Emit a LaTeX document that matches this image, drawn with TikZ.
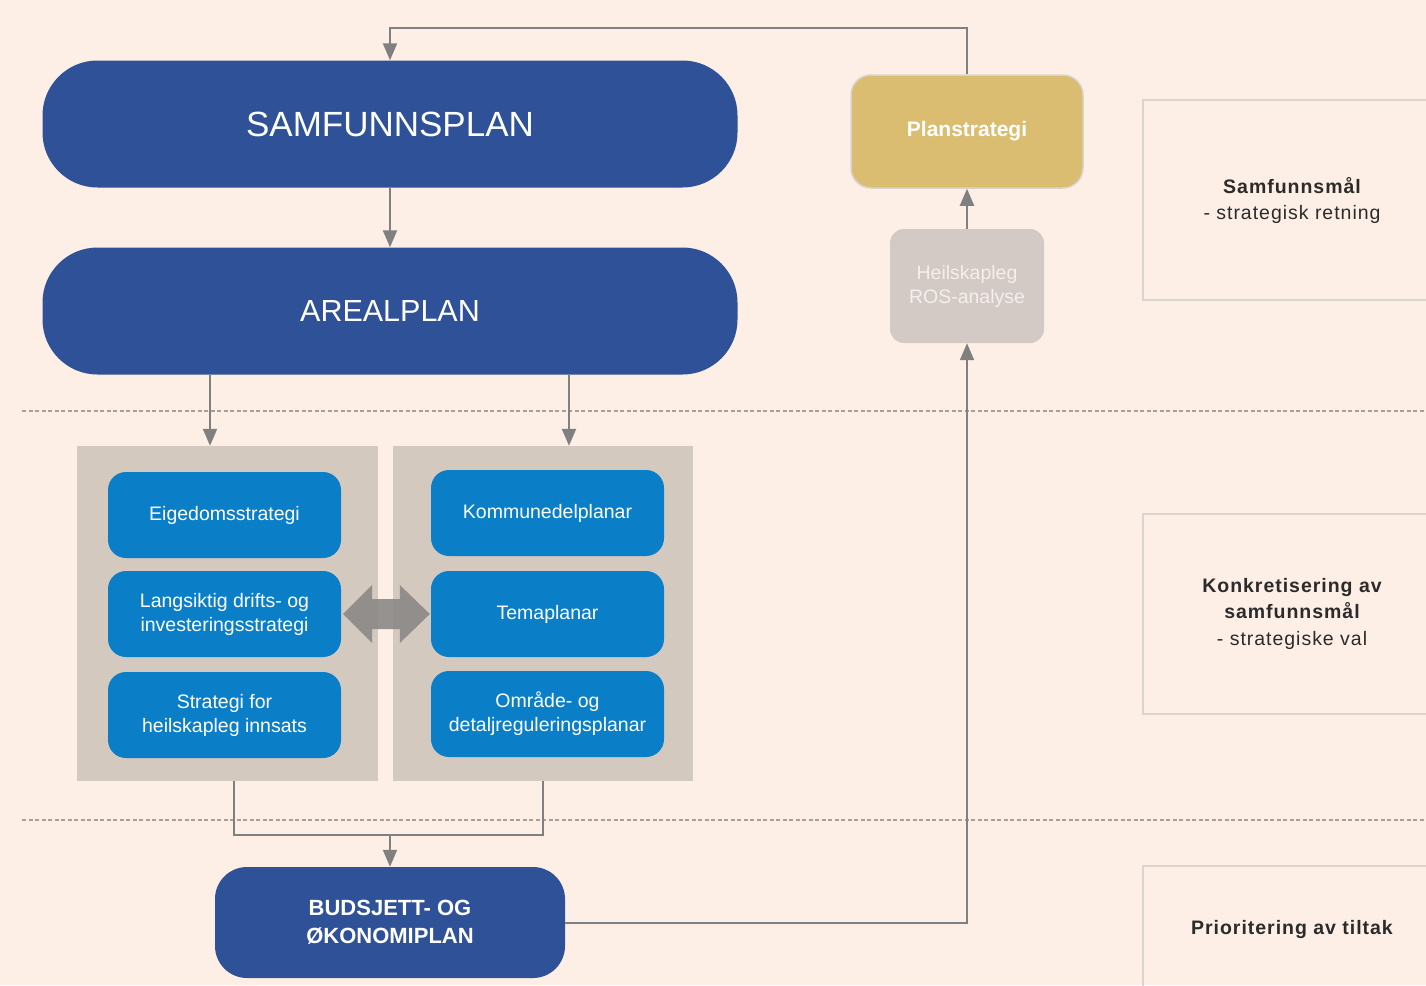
\documentclass[tikz,border=0pt]{standalone}
\usepackage{fontspec}
\setmainfont{Liberation Sans}
\newfontfamily\sidefont{Liberation Sans}[LetterSpace=5]
\usetikzlibrary{arrows.meta,calc}
\definecolor{bgc}{HTML}{FDEFE5}
\definecolor{darkblue}{HTML}{2E5197}
\definecolor{midblue}{HTML}{0A7FC7}
\definecolor{goldc}{HTML}{DBBD72}
\definecolor{rosc}{HTML}{D3CAC6}
\definecolor{rostext}{HTML}{F4EFEC}
\definecolor{panelc}{HTML}{D3C9BF}
\definecolor{linegray}{HTML}{808080}
\definecolor{dotgray}{HTML}{A5A09C}
\definecolor{boxline}{HTML}{DAD4CF}
\definecolor{textdark}{HTML}{2B2B2B}
\definecolor{dblarrow}{HTML}{8A8886}
\tikzset{
  bigplan/.style={rectangle, rounded corners=55pt, fill=darkblue, text=white,
    minimum width=695pt, minimum height=127pt, inner sep=0pt},
  subbox/.style={rectangle, rounded corners=18pt, fill=midblue, text=white,
    minimum width=233pt, minimum height=86pt, inner sep=0pt, align=center,
    font=\fontsize{19.5}{24}\selectfont},
  panelbox/.style={rectangle, fill=panelc, minimum width=301pt, minimum height=335pt, inner sep=0pt},
  conn/.style={draw=linegray, line width=2pt},
  arr/.style={conn, -{Triangle[width=14pt,length=17pt]}},
  sidebox/.style={rectangle, draw=boxline, line width=2pt, minimum width=298pt,
    inner sep=0pt, align=center, text=textdark, font=\sidefont\fontsize{19.5}{26}\selectfont},
  dotline/.style={draw=dotgray, line width=1.6pt, dash pattern=on 4pt off 2.5pt},
}
\begin{document}
\begin{tikzpicture}[x=1pt,y=-1pt]
\fill[bgc] (0,0) rectangle (1426,985);
\useasboundingbox (0,0) rectangle (1426,985);
\clip (0,0) rectangle (1426,985);

% dotted separators
\draw[dotline] (22,411) -- (1426,411);
\draw[dotline] (22,820) -- (1426,820);

% main plans
\node[bigplan, font=\fontsize{35}{40}\selectfont] (samf) at (390,124) {SAMFUNNSPLAN};
\node[bigplan, font=\fontsize{30.5}{36}\selectfont] (areal) at (390,311) {AREALPLAN};

% panels
\node[panelbox] (panelL) at (227.5,613.5) {};
\node[panelbox, minimum width=300pt] (panelR) at (543,613.5) {};

% left column
\node[subbox] (eig) at (224.5,515) {Eigedomsstrategi};
\node[subbox] (lang) at (224.5,614) {Langsiktig drifts- og\\investeringsstrategi};
\node[subbox] (heil) at (224.5,715) {Strategi for\\heilskapleg innsats};
% right column
\node[subbox] (komm) at (547.5,513) {Kommunedelplanar};
\node[subbox] (tema) at (547.5,614) {Temaplanar};
\node[subbox] (omr) at (547.5,714) {Område- og\\detaljreguleringsplanar};

% double arrow between columns
\fill[dblarrow, opacity=0.9]
  ($(lang.east)+(2,0)$) -- ++(29,-29) -- ++(0,14) -- ($(tema.west)+(-31,-15)$)
  -- ++(0,-14) -- ($(tema.west)+(-1,0)$) -- ++(-30,29) -- ++(0,-14)
  -- ($(lang.east)+(31,15)$) -- ++(0,14) -- cycle;

% budget
\node[rectangle, rounded corners=32pt, fill=darkblue, text=white,
  minimum width=350pt, minimum height=111pt, inner sep=0pt, align=center,
  font=\fontsize{22}{28}\selectfont\bfseries] (budget) at (390,922.5)
  {BUDSJETT- OG\\ØKONOMIPLAN};

% planstrategi and ROS
\node[rectangle, rounded corners=20pt, fill=goldc, draw=boxline, line width=1.5pt,
  text=white, minimum width=232pt, minimum height=113pt, inner sep=0pt,
  font=\fontsize{21}{24}\selectfont\bfseries] (plan) at (967,131.5) {Planstrategi};
\node[rectangle, rounded corners=14pt, fill=rosc, text=rostext,
  minimum width=154pt, minimum height=114pt, inner sep=0pt, align=center,
  font=\fontsize{19.5}{24}\selectfont] (ros) at (967,286) {Heilskapleg\\ROS-analyse};

% side boxes
\node[sidebox, minimum height=200pt] (side1) at (1292,200)
  {\bfseries Samfunnsmål\\ - strategisk retning};
\node[sidebox, minimum height=200pt] (side2) at (1292,614)
  {\bfseries Konkretisering av\\ \bfseries samfunnsmål\\[1pt] - strategiske val};
\node[sidebox, minimum height=126pt] (side3) at (1292,929)
  {\bfseries Prioritering av tiltak};

% coordinates for connector columns
\coordinate (xa) at (210,0);
\coordinate (xb) at (569,0);
\coordinate (xc) at (234,0);
\coordinate (xd) at (543,0);
\coordinate (merge) at (390,835);

% connectors
\draw[arr] (plan.north) -- ++(0,-46) -| (samf.north);
\draw[arr] (samf.south) -- (areal.north);
\draw[arr] (areal.south -| xa) -- (panelL.north -| xa);
\draw[arr] (areal.south -| xb) -- (panelR.north -| xb);
\draw[conn] (panelL.south -| xc) |- (merge) -| (panelR.south -| xd);
\draw[arr] (merge) -- (budget.north);
\draw[arr] (budget.east) -| (ros.south);
\draw[arr] (ros.north) -- (plan.south);
\end{tikzpicture}
\end{document}
